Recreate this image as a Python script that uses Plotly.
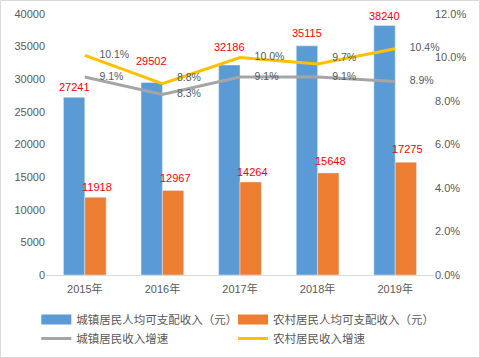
import plotly.graph_objects as go

years = ["2015年", "2016年", "2017年", "2018年", "2019年"]
urban_income = [27241, 29502, 32186, 35115, 38240]
rural_income = [11918, 12967, 14264, 15648, 17275]
urban_growth = [0.091, 0.083, 0.091, 0.091, 0.089]
rural_growth = [0.101, 0.088, 0.100, 0.097, 0.104]

names = ["城镇居民人均可支配收入（元）", "农村居民人均可支配收入（元）", "城镇居民收入增速", "农村居民收入增速"]
colors = ["#5b9bd5", "#ed7d31", "#a5a5a5", "#ffc000"]

W, H = 480, 358
ML, MR, MT, MB = 46, 46, 14, 83
PW = W - ML - MR
PH = H - MT - MB

tick_font = dict(family="Liberation Sans, Noto Sans CJK SC", size=11, color="#595959")
label_color = "#505a6b"
bar_text_font = dict(color="#ff0000", size=11, family="Liberation Sans")
line_text_font = dict(color=label_color, size=10.5, family="Liberation Sans")
pad = "\u00a0" * 5
bargap = 0.45
bar_px = (1 - bargap) * PW / len(years) / 2

fig = go.Figure()
fig.add_trace(go.Bar(x=years, y=urban_income, name=names[0], marker_color=colors[0],
                     legendgroup="g0", showlegend=False))
fig.add_trace(go.Bar(x=years, y=rural_income, name=names[1], marker_color=colors[1],
                     legendgroup="g1", showlegend=False))
fig.add_trace(go.Scatter(x=years, y=urban_growth, name=names[2], yaxis="y2", mode="lines+text",
                         line=dict(color=colors[2], width=3),
                         texttemplate=pad + "%{y:.1%}",
                         textposition=["middle right"] * 5,
                         textfont=line_text_font, cliponaxis=False, legend="legend"))
fig.add_trace(go.Scatter(x=years, y=rural_growth, name=names[3], yaxis="y2", mode="lines+text",
                         line=dict(color=colors[3], width=3),
                         texttemplate=pad + "%{y:.1%}",
                         textposition=["middle right", "top right", "middle right", "top right", "middle right"],
                         textfont=line_text_font, cliponaxis=False, legend="legend2"))
# legend keys for the bar series (wide boxes as in the reference)
fig.add_trace(go.Scatter(x=[years[0]], y=[None], name=names[0], mode="lines",
                         line=dict(color=colors[0], width=10), legendgroup="g0",
                         legend="legend", legendrank=1))
fig.add_trace(go.Scatter(x=[years[0]], y=[None], name=names[1], mode="lines",
                         line=dict(color=colors[1], width=10), legendgroup="g1",
                         legend="legend2", legendrank=1))

# value labels above bars (a few lifted to clear the lines, as in the reference)
urban_label_lift = [2, 14, 10, 5, 1]
rural_label_lift = [2, 4, 2, 4, 5]
annotations = []
for i, yr in enumerate(years):
    annotations.append(dict(x=yr, y=urban_income[i], xref="x", yref="y", text=str(urban_income[i]),
                            showarrow=False, xshift=-bar_px / 2, yshift=urban_label_lift[i],
                            yanchor="bottom", font=bar_text_font))
    annotations.append(dict(x=yr, y=rural_income[i], xref="x", yref="y", text=str(rural_income[i]),
                            showarrow=False, xshift=bar_px / 2 + 2, yshift=rural_label_lift[i],
                            yanchor="bottom", font=bar_text_font))

legend_common = dict(orientation="v", yanchor="top", xanchor="left", y=-0.115,
                     itemwidth=30, tracegroupgap=0, bgcolor="rgba(0,0,0,0)",
                     font=dict(family="Noto Sans CJK SC", size=11.5, color="#595959"))

fig.update_layout(
    width=W, height=H,
    margin=dict(l=ML, r=MR, t=MT, b=MB, autoexpand=False),
    paper_bgcolor="white", plot_bgcolor="white",
    barmode="group", bargap=bargap, bargroupgap=0,
    font=dict(family="Liberation Sans, Noto Sans CJK SC", color="#595959"),
    xaxis=dict(tickfont=tick_font, showline=True, linecolor="#d9d9d9", linewidth=1,
               ticks="", showgrid=False, automargin=False, ticklabelstandoff=4),
    yaxis=dict(range=[0, 40000], dtick=5000, tickformat="d", tickfont=tick_font, showgrid=False,
               zeroline=False, showline=False, ticks="", automargin=False),
    yaxis2=dict(range=[0, 0.12], dtick=0.02, tickformat=".1%", tickfont=tick_font,
                overlaying="y", side="right", showgrid=False, zeroline=False, showline=False,
                automargin=False),
    showlegend=True,
    legend=dict(x=-0.025, **legend_common),
    legend2=dict(x=(233 - ML) / PW, **legend_common),
    annotations=annotations,
    shapes=[dict(type="rect", xref="paper", yref="paper",
                 x0=-(ML - 0.5) / PW, x1=(W - 0.5 - ML) / PW,
                 y0=(H - MB - (H - 0.5)) / PH, y1=(H - MB - 0.5) / PH,
                 line=dict(color="#d9d9d9", width=1), fillcolor="rgba(0,0,0,0)", layer="below")],
)

fig.write_html("out.html", config={"displayModeBar": False},
               post_script="document.body.style.margin='0';")
